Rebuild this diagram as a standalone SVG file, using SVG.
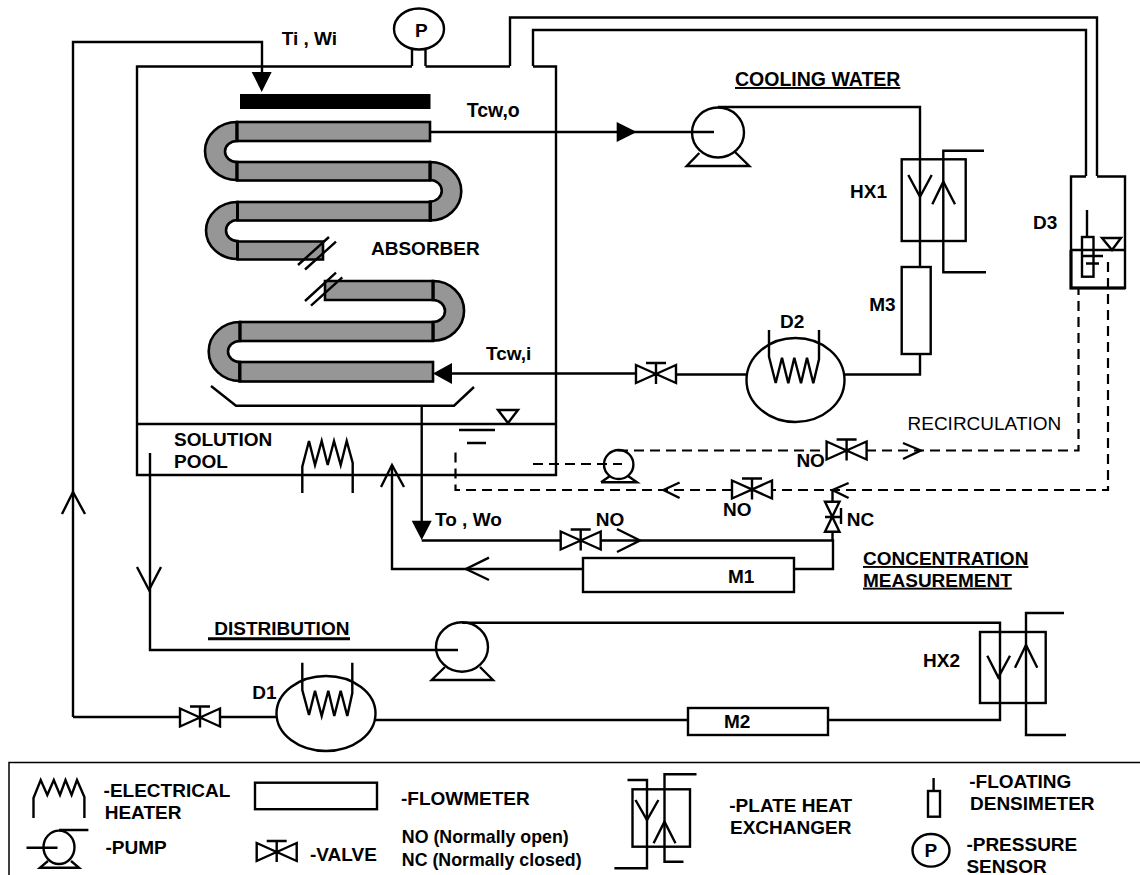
<svg xmlns="http://www.w3.org/2000/svg" width="1140" height="875" viewBox="0 0 1140 875">
<style>
text{font-family:"Liberation Sans",Arial,sans-serif;font-size:19px;font-weight:700;fill:#000}
.s{font-size:19px}
.c{font-size:19.500px}
.k{font-size:17.800px}
.r{font-weight:400}
.l,.n{fill:none;stroke:#000;stroke-width:2.400;stroke-linejoin:miter}
.d{fill:none;stroke:#000;stroke-width:2.200;stroke-dasharray:10 6}
.t{fill:#969696;stroke:#000;stroke-width:2.600}
.b{stroke:#000;stroke-width:3;fill:none}
.f{fill:#000;stroke:none}
.w{fill:#fff;stroke:#000;stroke-width:2.400}
.u{text-decoration:underline}
</style>
<defs>
<g id="valve"><path class="n" d="M-20-9L20 9V-9L-20 9Z M0-11V10 M-10-11H10"/></g>
</defs>
<rect width="1140" height="875" fill="#fff"/>
<g id="connectors">
<path class="l" d="M73 717V42H262V75"/>
<path class="f" d="M251.700 72H271.700L261.700 92Z"/>
<path class="l" d="M62 514L73 492L85 514"/>
<path class="l" d="M510 66V17.500H1097V176"/>
<path class="l" d="M533 66V30H1086V176"/>
<path class="l" d="M412 66V48M425.500 66V48"/>
<path class="l" d="M430 132H714"/>
<path class="f" d="M616.700 122V142L636.700 132Z"/>
<path class="l" d="M718 107H920V267"/>
<path class="l" d="M920 354V374.500H845M746 374.500H676M636 373.500H450"/>
<path class="f" d="M433 373.500L452 363V384Z"/>
<path class="l" d="M421.700 405.700V530"/>
<path class="f" d="M411.700 520.700H431.700L421.700 540Z"/>
<path class="l" d="M421.700 540.500H560M600.700 540.500H833V569H794"/>
<path class="l" d="M617 529L640 540.500L617 552"/>
<path class="l" d="M832.500 490V502M832.500 532V540"/>
<path class="l" d="M848.600 483L832.500 490L848.600 498"/>
<path class="l" d="M583 569H392V465"/>
<path class="l" d="M489 557.700L466 569L489 580"/>
<path class="l" d="M381 487L392 465L404 487"/>
<path class="l" d="M150 453V650H458"/>
<path class="l" d="M137 567L149 590L161 567"/>
<path class="l" d="M462 622.700H1000V720H828M688 720H375"/>
<path class="l" d="M276 717H220M180 717H73"/>
<path class="d" d="M533 464H622"/>
<path class="d" d="M618 450.500H827M866 450.500H1078.500V288"/>
<path class="d" d="M1108 262V490H772M732 490H455.500V448"/>
<path class="l" d="M903 443L920.700 450.500L903 459"/>
<path class="l" d="M679.600 482.500L663.500 490L679.600 498"/>
</g>

<g id="absorber">
<path class="l" d="M412 66.500H137V475H556V66.500H533M510 66.500H425.500"/>
<path class="l" d="M137 424H556"/>
</g>
<g id="pressure-sensor"><ellipse class="w" cx="419" cy="29" rx="25" ry="20.500"/><text x="415" y="36.500">P</text></g>
<rect id="spray-bar" x="240" y="94" width="190.500" height="15" fill="#000"/>
<g id="tubes">
<path class="t" d="M237 122A32 29 0 0 0 237 180V162A12 10.500 0 0 1 237 141Z"/>
<path class="t" d="M430 162A31 29 0 0 1 430 220.500V201.500A11.500 10.500 0 0 0 430 180Z"/>
<path class="t" d="M237.500 202A31.500 28.500 0 0 0 237.500 259V241A11.500 10.500 0 0 1 237.500 220Z"/>
<path class="t" d="M433 281A31 29.800 0 0 1 433 340.700V322A12 11 0 0 0 433 300Z"/>
<path class="t" d="M240 322A31.300 29.500 0 0 0 240 381V362A12 10.500 0 0 1 240 341Z"/>
<rect class="t" x="237" y="122" width="193" height="19"/>
<rect class="t" x="237" y="162" width="193" height="18.500"/>
<rect class="t" x="237.500" y="202" width="193" height="18.500"/>
<path class="t" d="M323 241.500H237.500V259.500H323Z"/>
<path class="t" d="M325 281H433V300H325Z"/>
<rect class="t" x="240" y="322" width="193" height="19"/>
<rect class="t" x="239.500" y="362" width="193.500" height="19.500"/>
<path class="b" d="M237 122V141M237 162V180M430 162V180M430 202V220M237.500 202V220M237.500 241V259M433 281V300M433 322V340M240 322V341M240 362V381"/>
<path class="l" d="M298 265L329 237M305 269.500L336 241.700M305 301L336 272.700M311 305.700L342.300 277.300"/>
</g>
<path id="tray" class="l" d="M211 386L236 405.700H454L474 387"/>
<g id="pool-level">
<path class="l" d="M498 410H518L508 423Z"/>
<path class="l" d="M459 430H495M467 443H486"/>
</g>
<g id="pool-heater"><path class="l" d="M302.300 493V466.700L309 441L315 465L321.700 441L327.700 465L334 441L340.700 465L346.700 441L352.700 463V493"/></g>
<g id="pump-solution"><ellipse class="l" cx="618.700" cy="464.500" rx="14.700" ry="14.500"/><path class="l" d="M601 482.300H637L628 476M601 482.300L610 476"/></g>
<g id="pump-cooling"><ellipse class="l" cx="718" cy="132.500" rx="26" ry="25"/><path class="l" d="M699.300 153L686.700 166H749.300L735 152"/></g>
<g id="pump-distribution"><ellipse class="l" cx="462" cy="647" rx="26" ry="24.700"/><path class="l" d="M445 667L431.700 680H493L480 667"/></g>
<g id="hx1">
<rect class="l" x="901.700" y="159.300" width="64" height="81.700"/>
<path class="l" d="M984 150.700H943.300V272.300H986"/>
<path class="l" d="M908.300 175L920 196.700L931.700 175M932.300 204.300L943.300 181.700L955 204.300"/>
</g>
<rect id="m3" class="w" x="901.700" y="267" width="29" height="87"/>
<g id="d2">
<ellipse class="l" cx="795.500" cy="380" rx="49" ry="42"/>
<path class="l" d="M769 330V356.700L775.700 383L782 357.700L788.300 383.300L794.300 357.700L801 383.300L807 357.700L813.300 383.300L819 359.300V330"/>
</g>
<g id="d3">
<path class="l" d="M1086 176.500H1071V288H1125V176.500H1097"/>
<path class="l" d="M1071 250H1125"/>
<path class="n" style="stroke-width:3" d="M1071 250V288H1125"/>
<rect class="l" x="1082" y="237" width="11.500" height="39.700"/>
<path class="l" d="M1087 210V237M1082 256H1103M1086 263.500H1099M1102 238H1121L1112 250Z"/>
</g>
<use id="valve-cooling" href="#valve" x="656" y="374"/>
<use id="valve-recirc" href="#valve" x="846.600" y="450.500"/>
<use id="valve-return" href="#valve" x="752" y="489.500"/>
<use id="valve-sample" href="#valve" x="580.700" y="540.500"/>
<use id="valve-distribution" href="#valve" x="200" y="717.500"/>
<g id="valve-nc"><path class="n" d="M825 501.700H839.500L825 531.700H839.500Z M825 517H842 M841 508V524"/></g>
<rect id="m1" class="w" x="583" y="558" width="211" height="34"/>
<g id="d1">
<ellipse class="l" cx="326" cy="713.500" rx="49.500" ry="37.500"/>
<path class="l" d="M302.300 662.700V690L309 715L315 690.700L321.700 716L328.300 690.700L334.300 716L340.700 690.700L347.300 716L352.300 693V662.700"/>
</g>
<rect id="m2" class="w" x="688" y="708" width="140" height="27"/>
<g id="hx2">
<rect class="l" x="980" y="632" width="65.700" height="71"/>
<path class="l" d="M1064 613H1026V735H1066"/>
<path class="l" d="M987.300 655.700L998.300 677.300L1010 655.700M1015 667.700L1026 645L1037.300 667.700"/>
</g>

<g id="labels">
<text x="281.700" y="45">Ti , Wi</text>
<text x="466.700" y="116.500" class="c">Tcw,o</text>
<text x="735" y="86" class="c u">COOLING WATER</text>
<text x="371" y="255">ABSORBER</text>
<text x="486" y="360">Tcw,i</text>
<text x="174" y="446">SOLUTION</text>
<text x="174" y="468">POOL</text>
<text x="435" y="526">To , Wo</text>
<text x="850" y="197.700">HX1</text>
<text x="869.300" y="310.700">M3</text>
<text x="780" y="328.300">D2</text>
<text x="1033" y="229.300">D3</text>
<text x="907.500" y="430" class="r">RECIRCULATION</text>
<text x="796.400" y="466.700">NO</text>
<text x="723" y="515.700">NO</text>
<text x="595.700" y="525.700">NO</text>
<text x="846.800" y="525.700">NC</text>
<text x="727.900" y="582.700">M1</text>
<text x="863" y="565" class="u">CONCENTRATION</text>
<text x="863" y="586.700" class="u">MEASUREMENT</text>
<text x="214.300" y="635">DISTRIBUTION</text>
<path class="b" d="M208 638.700H350"/>
<text x="252.300" y="698.700">D1</text>
<text x="724" y="728">M2</text>
<text x="923" y="666.700">HX2</text>
</g>

<g id="legend">
<rect x="9" y="762.500" width="1140" height="140" fill="none" stroke="#000" stroke-width="1.500"/>
<g id="legend-heater"><path class="l" d="M33.500 818V798L40.700 780L47.300 795L53.800 780L60 795L65.500 780L71.600 795L77 780L84.400 797V818"/></g>
<text x="103.600" y="796.700">-ELECTRICAL</text>
<text x="104.700" y="819">HEATER</text>
<rect id="legend-flowmeter" class="l" x="255" y="782.700" width="122" height="26.500"/>
<text x="401" y="805">-FLOWMETER</text>
<g id="legend-pump"><ellipse class="l" cx="59" cy="847.300" rx="15.500" ry="16.700"/><path class="l" d="M26.500 847.700H57.500M59 830H88.400M48 861L40 867.700H79L71 861"/></g>
<text x="105.500" y="854">-PUMP</text>
<use id="legend-valve" href="#valve" x="276.700" y="852"/>
<text x="310" y="860.700">-VALVE</text>
<text x="401.800" y="843.300" class="k">NO (Normally open)</text>
<text x="401.800" y="865.700" class="k">NC (Normally closed)</text>
<g id="legend-hx">
<rect class="l" x="632.500" y="789.300" width="57.500" height="57.400"/>
<path class="l" d="M627.500 780H647V868.300H614.400M696.500 774.300H664.500V861.700H683.500"/>
<path class="l" d="M635.500 800L647 820L658.400 800M653.600 843.300L664.500 821.700L675.500 843.300"/>
</g>
<text x="729.300" y="811.700">-PLATE HEAT</text>
<text x="730" y="834.300">EXCHANGER</text>
<g id="legend-densimeter"><rect class="l" x="928" y="791" width="12" height="25.700"/><path class="l" d="M933.600 778V791"/></g>
<text x="969.300" y="788.300">-FLOATING</text>
<text x="970" y="810">DENSIMETER</text>
<g id="legend-sensor"><ellipse class="l" cx="931" cy="850.300" rx="18.500" ry="16.300"/><text x="924.500" y="857.300">P</text></g>
<text x="966.400" y="851">-PRESSURE</text>
<text x="966.400" y="872.700">SENSOR</text>
</g>
</svg>
